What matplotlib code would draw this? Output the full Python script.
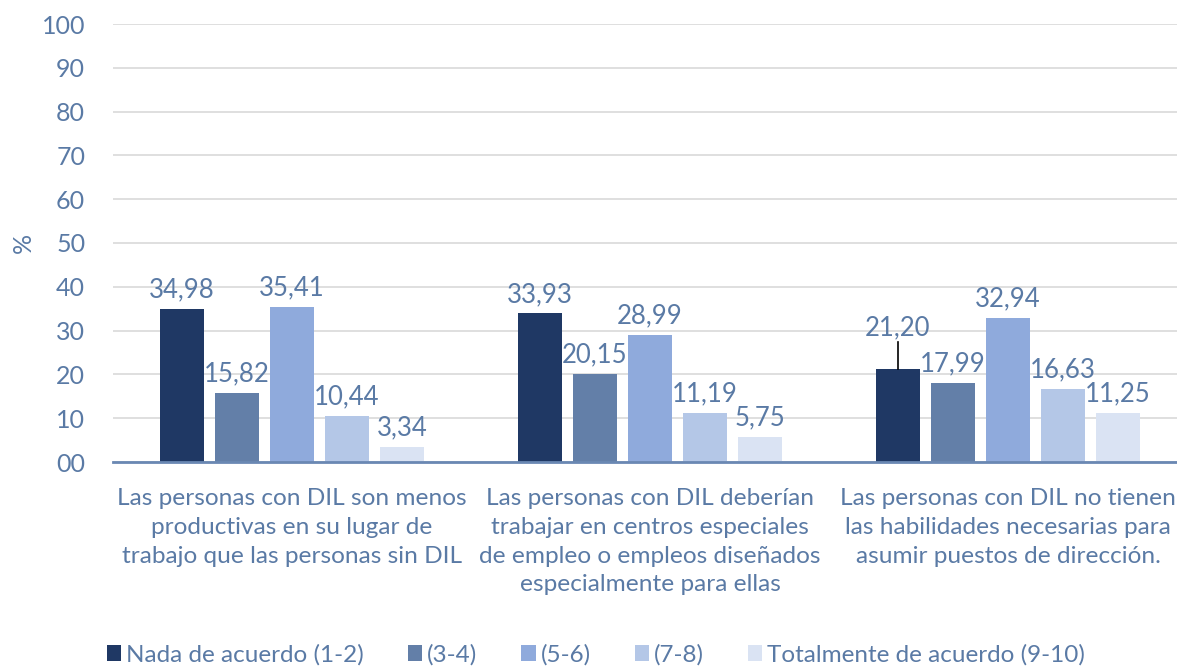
import matplotlib.pyplot as plt
import numpy as np

# datos
categorias = [
    "Las personas con DIL son menos\nproductivas en su lugar de\ntrabajo que las personas sin DIL",
    "Las personas con DIL deberían\ntrabajar en centros especiales\nde empleo o empleos diseñados\nespecialmente para ellas",
    "Las personas con DIL no tienen\nlas habilidades necesarias para\nasumir puestos de dirección.",
]
series = ["Nada de acuerdo (1-2)", "(3-4)", "(5-6)", "(7-8)", "Totalmente de acuerdo (9-10)"]
valores = [
    [34.98, 33.93, 21.20],
    [15.82, 20.15, 17.99],
    [35.41, 28.99, 32.94],
    [10.44, 11.19, 16.63],
    [3.34, 5.75, 11.25],
]
colores = ["#1f3864", "#637fa8", "#8faadc", "#b4c7e7", "#dae3f3"]
texto = "#5a7aa5"

plt.rcParams["font.family"] = ["Lato", "DejaVu Sans"]

fig = plt.figure(figsize=(11.77, 6.69), dpi=100)
ax = fig.add_axes([113 / 1177, 1 - 462 / 669, 1 - 113 / 1177, (462 - 24) / 669])

x = np.arange(len(categorias))
paso = 55 / 358
ancho = 44 / 358
for i, (nombre, vals) in enumerate(zip(series, valores)):
    pos = x + (i - 2) * paso
    ax.bar(pos, vals, width=ancho, color=colores[i], label=nombre, zorder=3)
    for j, (px, v) in enumerate(zip(pos, vals)):
        etiqueta = f"{v:.2f}".replace(".", ",")
        if i == 0 and j == 2:
            # etiqueta desplazada con línea guía
            ax.plot([px, px], [v, v + 6.2], color="black", lw=1.2, zorder=4)
            ax.text(px, v + 6.5, etiqueta, ha="center", va="bottom",
                    fontsize=18.5, color=texto, zorder=5)
        else:
            ax.text(px, v + 1.5, etiqueta, ha="center", va="bottom",
                    fontsize=18.5, color=texto, zorder=5)

ax.set_xlim(-0.5, (1177 - 292) / 358)
ax.set_ylim(0, 100)
ax.set_yticks(np.arange(0, 101, 10))
ax.set_yticklabels([f"{t:02d}" for t in range(0, 101, 10)])
ax.yaxis.grid(True, color="#d9d9d9", lw=1.2, zorder=0)
ax.set_xticks(x)
ax.set_xticklabels(categorias, fontsize=17.6, color=texto, linespacing=1.45, va="top")
ax.tick_params(axis="x", length=0, pad=19)
ax.tick_params(axis="y", length=0, pad=20, labelsize=18, labelcolor=texto)
for lado in ["top", "right", "left"]:
    ax.spines[lado].set_visible(False)
ax.spines["bottom"].set_color("#6a88b3")
ax.spines["bottom"].set_linewidth(2)
ax.spines["bottom"].set_zorder(6)

ax.set_ylabel("%", fontsize=18, color=texto)
ax.yaxis.set_label_coords(-78 / 1064, (462 - 243) / 438)

leg = fig.legend(loc="center", bbox_to_anchor=(596 / 1177, 1 - 655 / 669), ncol=5,
                 frameon=False, fontsize=17.5, handlelength=0.6, handleheight=0.6,
                 handletextpad=0.2, columnspacing=1.8, labelcolor=texto)

fig.savefig("out.png", dpi=100)
